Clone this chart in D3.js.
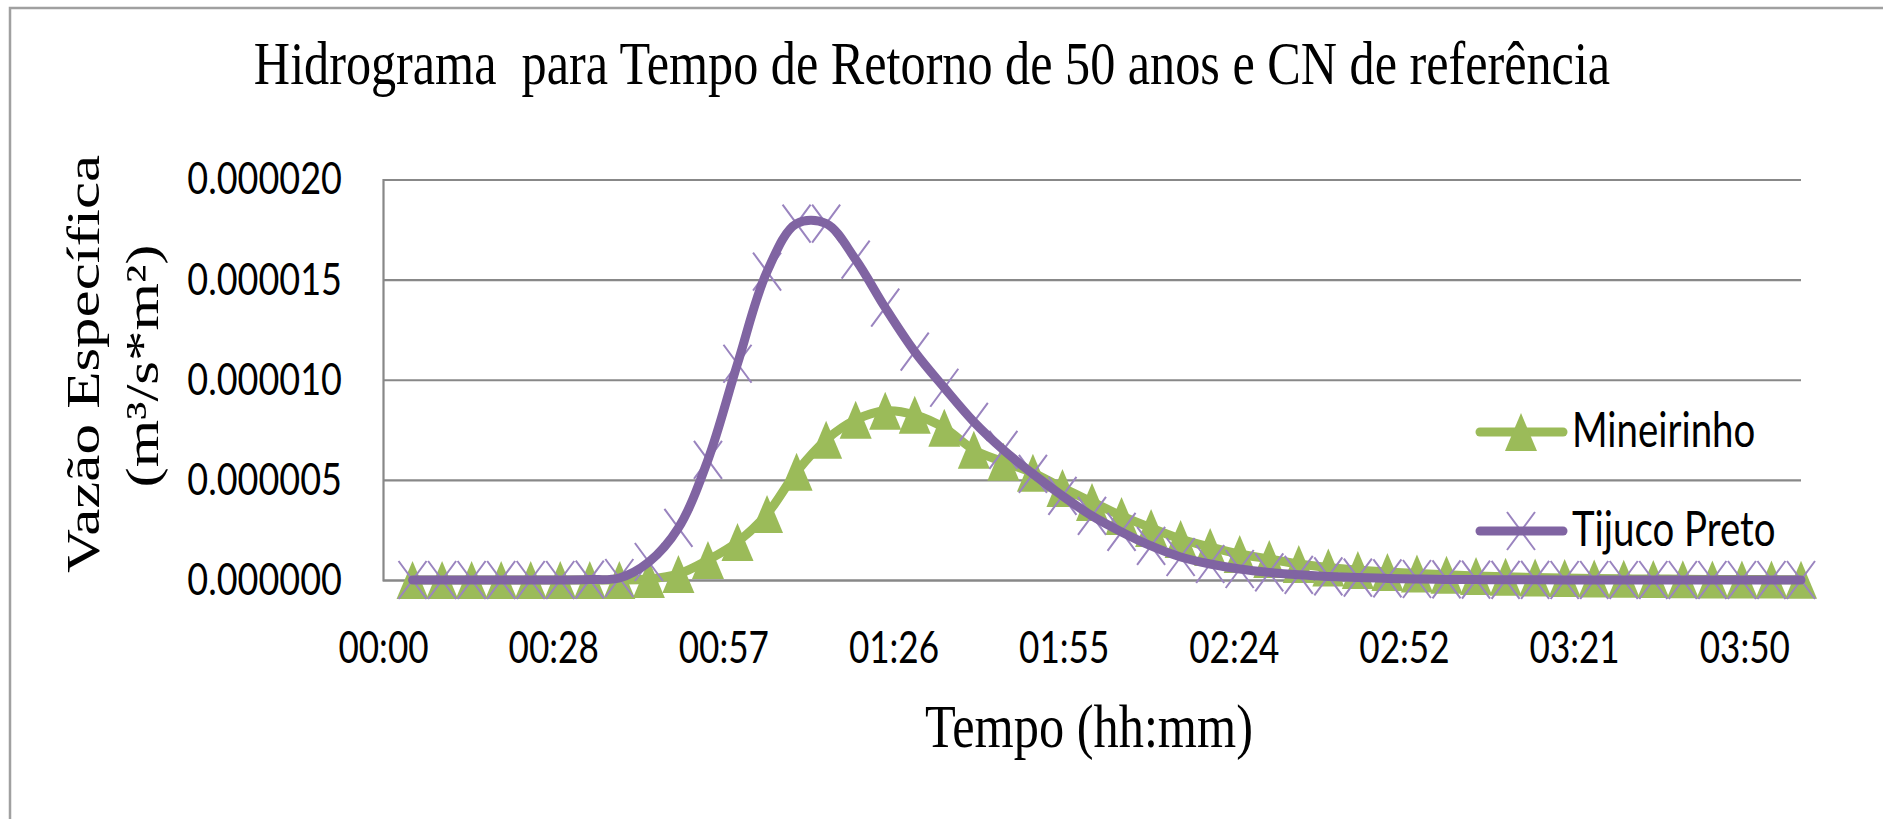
<!DOCTYPE html>
<html>
<head>
<meta charset="utf-8">
<script src="https://d3js.org/d3.v7.min.js"></script>
<style>
  body { margin: 0; background: #fff; }
</style>
</head>
<body>
<script>
// hidrograma - Mineirinho x Tijuco Preto

// tempo de cada ponto (minutos)
var tempoMin = [5, 10, 15, 20, 25, 30, 35, 40, 45, 50, 55, 60, 65, 70, 75, 80,
    85, 90, 95, 100, 105, 110, 115, 120, 125, 130, 135, 140, 145, 150, 155, 160,
    165, 170, 175, 180, 185, 190, 195, 200, 205, 210, 215, 220, 225, 230, 235, 240];

// vazao especifica (m3/s*m2)
var mineirinho = [0, 0, 0, 0, 0, 0, 0, 0, 0.05e-6, 0.3e-6, 1.0e-6, 1.9e-6, 3.3e-6, 5.4e-6, 7.0e-6, 8.0e-6,
    8.45e-6, 8.25e-6, 7.6e-6, 6.5e-6, 5.9e-6, 5.35e-6, 4.6e-6, 3.9e-6, 3.2e-6, 2.6e-6, 2.05e-6, 1.65e-6, 1.3e-6, 1.05e-6, 0.8e-6, 0.63e-6,
    0.5e-6, 0.4e-6, 0.32e-6, 0.26e-6, 0.2e-6, 0.16e-6, 0.12e-6, 0.1e-6, 0.08e-6, 0.06e-6, 0.05e-6, 0.04e-6, 0.03e-6, 0.02e-6, 0.02e-6, 0.01e-6];

var tijucoPreto = [0, 0, 0, 0, 0, 0, 0.02e-6, 0.1e-6, 0.9e-6, 2.6e-6, 6.0e-6, 10.8e-6, 15.4e-6, 17.8e-6, 17.8e-6, 16.0e-6,
    13.6e-6, 11.4e-6, 9.6e-6, 7.9e-6, 6.5e-6, 5.3e-6, 4.2e-6, 3.2e-6, 2.4e-6, 1.7e-6, 1.15e-6, 0.8e-6, 0.55e-6, 0.38e-6, 0.26e-6, 0.18e-6,
    0.12e-6, 0.08e-6, 0.05e-6, 0.03e-6, 0.02e-6, 0.01e-6, 0.01e-6, 0, 0, 0, 0, 0, 0, 0, 0, 0];

var xTickVals = [0, 28.8, 57.6, 86.4, 115.2, 144, 172.8, 201.6, 230.4];
var xTickLabels = ["00:00", "00:28", "00:57", "01:26", "01:55", "02:24", "02:52", "03:21", "03:50"];
var yTickVals = [0, 0.000005, 0.00001, 0.000015, 0.00002];

var seriesNames = ["Mineirinho", "Tijuco Preto"];
var verde = "#9BBB59", roxo = "#8064A2", roxoClaro = "#9a84bf";

var svg = d3.select("body").append("svg").attr("width", 1883).attr("height", 819);

// moldura do grafico
svg.append("rect").attr("x", 10).attr("y", 8).attr("width", 1900).attr("height", 900)
    .style("fill", "none").style("stroke", "#a0a0a0").style("stroke-width", 2.5);

var x = d3.scaleLinear().domain([0, 240]).range([383, 1801]);
var y = d3.scaleLinear().domain([0, 0.00002]).range([580, 179.5]);

// aperta o texto na horizontal (a figura original esta comprimida)
function squeeze(sel, f) {
    sel.each(function() {
        var w = this.getComputedTextLength();
        d3.select(this).attr("textLength", w * f).attr("lengthAdjust", "spacingAndGlyphs");
    });
}

// eixo y + grade
var gy = svg.append("g").attr("transform", "translate(" + x(0) + ",0)")
    .call(d3.axisLeft(y).tickValues(yTickVals).tickFormat(d3.format(".6f"))
        .tickSize(-(x(240) - x(0))).tickPadding(41));
gy.select(".domain").style("stroke", "#888").style("stroke-width", 2.2);
gy.selectAll(".tick line").style("stroke", "#888").style("stroke-width", 2.2);
gy.selectAll(".tick text").style("font-family", "Lato").style("font-size", "45px").style("fill", "#000");
squeeze(gy.selectAll(".tick text"), 0.8);

// eixo x
var gx = svg.append("g").attr("transform", "translate(0," + y(0) + ")")
    .call(d3.axisBottom(x).tickValues(xTickVals).tickFormat(function(d, i) { return xTickLabels[i]; })
        .tickSize(0).tickPadding(51));
gx.select(".domain").remove();
gx.selectAll(".tick text").style("font-family", "Lato").style("font-size", "45px").style("fill", "#000");
squeeze(gx.selectAll(".tick text"), 0.78);

// series
var line = d3.line()
    .x(function(d) { return x(d[0]); })
    .y(function(d) { return y(d[1]); })
    .curve(d3.curveCatmullRom.alpha(0.5));

var dadosM = tempoMin.map(function(t, i) { return [t, mineirinho[i]]; });
var dadosT = tempoMin.map(function(t, i) { return [t, tijucoPreto[i]]; });

var triPath = "M0,-19L16,19L-16,19Z";
var xPath = "M-14,-19L14,19M-14,19L14,-19";

svg.append("path").datum(dadosM).attr("d", line)
    .style("fill", "none").style("stroke", verde).style("stroke-width", 9).style("stroke-linecap", "round");
svg.append("g").selectAll("path").data(dadosM).enter().append("path")
    .attr("transform", function(d) { return "translate(" + x(d[0]) + "," + y(d[1]) + ")"; })
    .attr("d", triPath).style("fill", verde);

svg.append("g").selectAll("path").data(dadosT).enter().append("path")
    .attr("transform", function(d) { return "translate(" + x(d[0]) + "," + y(d[1]) + ")"; })
    .attr("d", xPath).style("fill", "none").style("stroke", roxoClaro).style("stroke-width", 2);
svg.append("path").datum(dadosT).attr("d", line)
    .style("fill", "none").style("stroke", roxo).style("stroke-width", 9).style("stroke-linecap", "round");

// legenda
var legY = [432, 531];
var leg = svg.append("g");
leg.append("line").attr("x1", 1480).attr("x2", 1563).attr("y1", legY[0]).attr("y2", legY[0])
    .style("stroke", verde).style("stroke-width", 9).style("stroke-linecap", "round");
leg.append("path").attr("transform", "translate(1521," + legY[0] + ")").attr("d", triPath).style("fill", verde);
leg.append("path").attr("transform", "translate(1521," + legY[1] + ")").attr("d", xPath)
    .style("fill", "none").style("stroke", roxoClaro).style("stroke-width", 2);
leg.append("line").attr("x1", 1480).attr("x2", 1563).attr("y1", legY[1]).attr("y2", legY[1])
    .style("stroke", roxo).style("stroke-width", 9).style("stroke-linecap", "round");
leg.selectAll("text").data(seriesNames).enter().append("text")
    .attr("x", 1572).attr("y", function(d, i) { return legY[i] + 15; })
    .text(function(d) { return d; })
    .style("font-family", "Lato").style("font-size", "48px").style("fill", "#000");
squeeze(leg.selectAll("text"), 0.8);

// titulos
svg.append("text").attr("transform", "translate(932,84) scale(0.81,1)")
    .attr("text-anchor", "middle")
    .style("font-family", "Liberation Serif").style("font-size", "62px")
    .text("Hidrograma\u00a0 para Tempo de Retorno de 50 anos e CN de referência");

svg.append("text").attr("x", 1089).attr("y", 747).attr("text-anchor", "middle")
    .style("font-family", "Liberation Serif").style("font-size", "61px")
    .attr("textLength", 328).attr("lengthAdjust", "spacingAndGlyphs")
    .text("Tempo (hh:mm)");

svg.append("text").attr("transform", "translate(99,364) rotate(-90) scale(1,0.76)")
    .attr("text-anchor", "middle")
    .style("font-family", "Liberation Serif").style("font-size", "61px")
    .text("Vazão Específica");

svg.append("text").attr("transform", "translate(158,366) rotate(-90) scale(1,0.76)")
    .attr("text-anchor", "middle")
    .style("font-family", "Liberation Serif").style("font-size", "61px")
    .text("(m³/s*m²)");
</script>
</body>
</html>
